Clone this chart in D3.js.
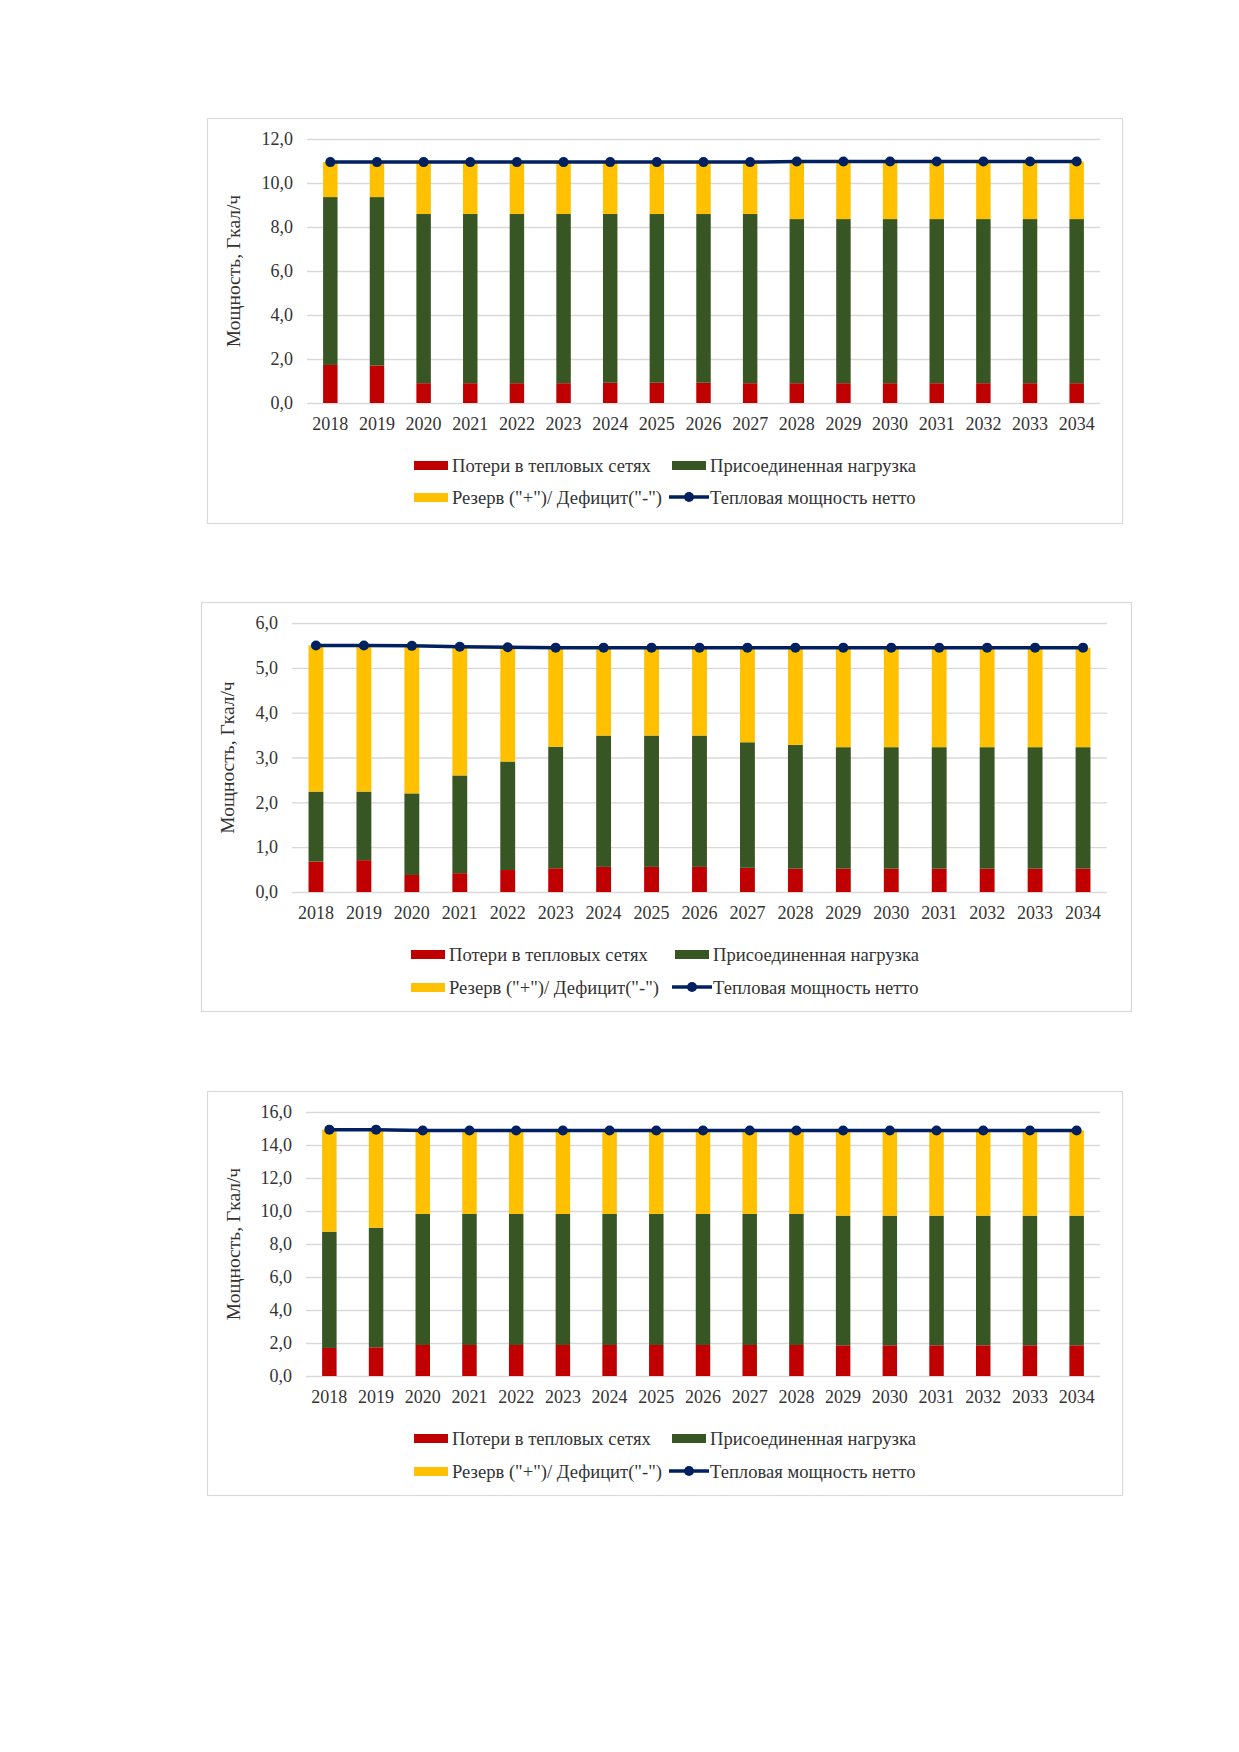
<!DOCTYPE html>
<html><head><meta charset="utf-8">
<script src="https://cdn.jsdelivr.net/npm/d3@7/dist/d3.min.js"></script>
<style>body{margin:0;background:#fff}svg{display:block}text{font-family:"Liberation Serif","Times New Roman",serif;fill:#333}</style>
</head><body>
<svg id="c" width="1239" height="1752"></svg>
<script>
const years = ["2018","2019","2020","2021","2022","2023","2024","2025","2026","2027","2028","2029","2030","2031","2032","2033","2034"];
const seriesNames = ["Потери в тепловых сетях","Присоединенная нагрузка","Резерв (\"+\")/ Дефицит(\"-\")","Тепловая мощность нетто"];
const yTitle = "Мощность, Гкал/ч";

// Chart 1
const losses1 = [1.73,1.70,0.90,0.90,0.90,0.90,0.92,0.92,0.92,0.90,0.90,0.90,0.90,0.90,0.90,0.90,0.90];
const load1 = [7.63,7.66,7.69,7.69,7.69,7.69,7.67,7.67,7.67,7.69,7.46,7.46,7.46,7.46,7.46,7.46,7.46];
const reserve1 = [1.59,1.59,2.36,2.36,2.36,2.36,2.36,2.36,2.36,2.36,2.62,2.62,2.62,2.62,2.62,2.62,2.62];
const net1 = [10.95,10.95,10.95,10.95,10.95,10.95,10.95,10.95,10.95,10.95,10.98,10.98,10.98,10.98,10.98,10.98,10.98];
const ticks1 = [0,2,4,6,8,10,12];

// Chart 2
const losses2 = [0.68,0.71,0.38,0.42,0.49,0.53,0.56,0.56,0.56,0.54,0.52,0.52,0.52,0.52,0.52,0.52,0.52];
const load2 = [1.56,1.53,1.82,2.18,2.42,2.71,2.93,2.93,2.93,2.80,2.76,2.71,2.71,2.71,2.71,2.71,2.71];
const reserve2 = [3.26,3.26,3.29,2.87,2.55,2.21,1.96,1.96,1.96,2.11,2.17,2.22,2.22,2.22,2.22,2.22,2.22];
const net2 = [5.50,5.50,5.49,5.47,5.46,5.45,5.45,5.45,5.45,5.45,5.45,5.45,5.45,5.45,5.45,5.45,5.45];
const ticks2 = [0,1,2,3,4,5,6];

// Chart 3
const losses3 = [1.70,1.74,1.88,1.88,1.88,1.88,1.88,1.88,1.88,1.88,1.88,1.86,1.86,1.86,1.86,1.86,1.86];
const load3 = [7.05,7.25,7.94,7.94,7.94,7.94,7.94,7.94,7.94,7.94,7.94,7.86,7.86,7.86,7.86,7.86,7.86];
const reserve3 = [6.18,5.94,5.06,5.06,5.06,5.06,5.06,5.06,5.06,5.06,5.06,5.16,5.16,5.16,5.16,5.16,5.16];
const net3 = [14.93,14.93,14.88,14.88,14.88,14.88,14.88,14.88,14.88,14.88,14.88,14.88,14.88,14.88,14.88,14.88,14.88];
const ticks3 = [0,2,4,6,8,10,12,14,16];

const colors = ["#C00000","#375623","#FFC000","#002060"];
const svg = d3.select("#c");
const fmt = v => d3.format(".1f")(v).replace(".", ",");

function drawChart(o){
  const g = svg.append("g");
  g.append("rect").attr("x",o.box[0]+0.5).attr("y",o.box[1]+0.5)
    .attr("width",o.box[2]-o.box[0]).attr("height",o.box[3]-o.box[1])
    .attr("fill","#fff").attr("stroke","#d9d9d9").attr("stroke-width",1.2);
  const x = d3.scaleBand().domain(years).range([o.plot[0],o.plot[1]]).paddingInner(0.69).paddingOuter(0.345);
  const y = d3.scaleLinear().domain([0,d3.max(o.ticks)]).range([o.plot[3],o.plot[2]]);
  const ya = d3.axisLeft(y).tickValues(o.ticks).tickSize(-(o.plot[1]-o.plot[0])).tickFormat(fmt).tickPadding(14);
  const ag = g.append("g").attr("transform",`translate(${o.plot[0]},0)`).call(ya);
  ag.select(".domain").remove();
  ag.selectAll(".tick line").attr("stroke","#d9d9d9").attr("stroke-width",1.3);
  ag.selectAll(".tick text").attr("font-size",18).attr("fill","#333").attr("font-family","Liberation Serif");
  const xa = d3.axisBottom(x).tickSize(0).tickPadding(14);
  const xg = g.append("g").attr("transform",`translate(0,${o.plot[3]})`).call(xa);
  xg.select(".domain").remove();
  xg.selectAll(".tick text").attr("font-size",18).attr("fill","#333").attr("font-family","Liberation Serif");
  const rows = years.map((yr,i)=>({year:yr,a:o.losses[i],b:o.load[i],c:o.reserve[i]}));
  const stack = d3.stack().keys(["a","b","c"])(rows);
  stack.forEach((layer,k)=>{
    g.append("g").selectAll("rect").data(layer).join("rect")
      .attr("x",d=>x(d.data.year)).attr("width",x.bandwidth())
      .attr("y",d=>y(d[1])).attr("height",d=>y(d[0])-y(d[1]))
      .attr("fill",colors[k]);
  });
  const line = d3.line().x((d,i)=>x(years[i])+x.bandwidth()/2).y(d=>y(d));
  g.append("path").datum(o.net).attr("d",line).attr("fill","none").attr("stroke",colors[3]).attr("stroke-width",3.5);
  g.append("g").selectAll("circle").data(o.net).join("circle")
    .attr("cx",(d,i)=>x(years[i])+x.bandwidth()/2).attr("cy",d=>y(d)).attr("r",5).attr("fill",colors[3]);
  g.append("text").attr("transform",`translate(${o.titleX},${(o.plot[2]+o.plot[3])/2}) rotate(-90)`)
    .attr("text-anchor","middle").attr("font-size",19.5).text(yTitle);
  const L = [[o.leg[0],o.leg[2],0],[o.leg[1],o.leg[2],1],[o.leg[0],o.leg[3],2],[o.leg[1],o.leg[3],3]];
  L.forEach(([lx,ly,k])=>{
    if(k<3){
      g.append("rect").attr("x",lx).attr("y",ly-4).attr("width",34).attr("height",9).attr("fill",colors[k]);
    } else {
      g.append("line").attr("x1",lx-3).attr("x2",lx+37).attr("y1",ly).attr("y2",ly).attr("stroke",colors[3]).attr("stroke-width",3.5);
      g.append("circle").attr("cx",lx+17).attr("cy",ly).attr("r",5).attr("fill",colors[3]);
    }
    g.append("text").attr("x",lx+38).attr("y",ly).attr("dy","0.35em").attr("font-size",18.6).attr("fill","#333").text(seriesNames[k]);
  });
}

drawChart({box:[207,118,1122,523],plot:[307,1100,139,403],ticks:ticks1,losses:losses1,load:load1,reserve:reserve1,net:net1,titleX:240,leg:[414,672,465,497]});
drawChart({box:[201,602,1131,1011],plot:[292,1107,623,892],ticks:ticks2,losses:losses2,load:load2,reserve:reserve2,net:net2,titleX:234,leg:[411,675,954,987]});
drawChart({box:[207,1091,1122,1495],plot:[306,1100,1112,1376],ticks:ticks3,losses:losses3,load:load3,reserve:reserve3,net:net3,titleX:240,leg:[414,672,1438,1471]});
</script>
</body></html>
